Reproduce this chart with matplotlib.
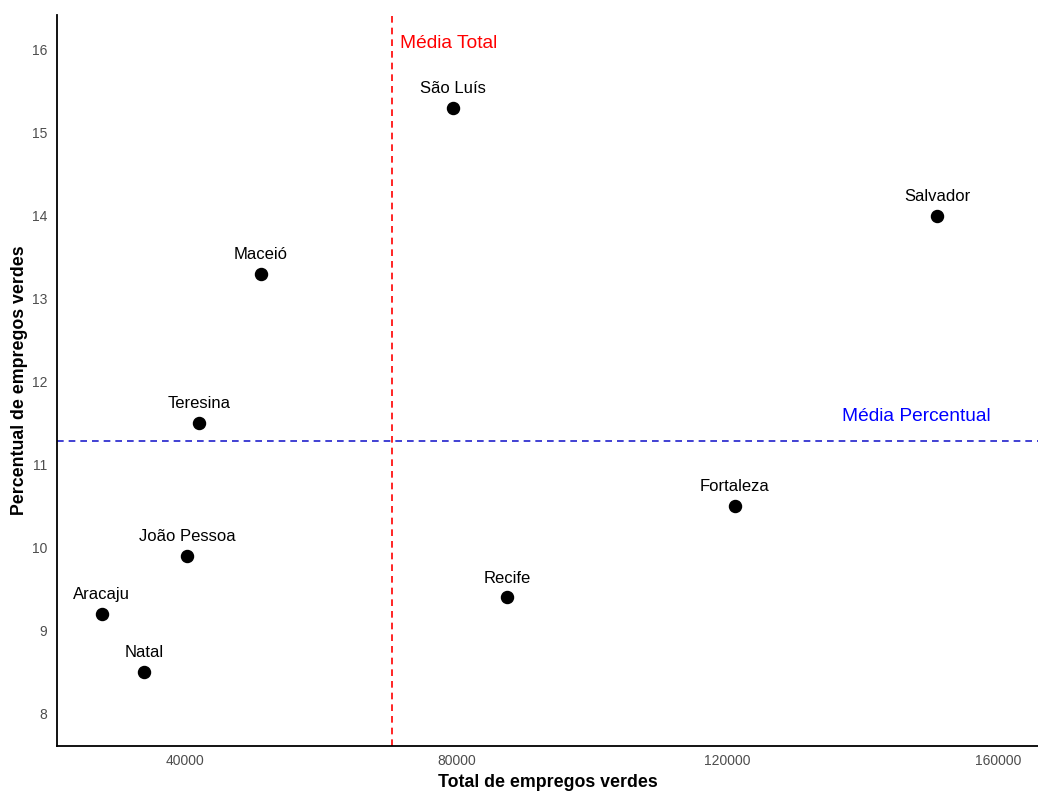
import matplotlib
matplotlib.use("Agg")
import matplotlib.pyplot as plt
import numpy as np

plt.rcParams['font.family'] = ['Liberation Sans', 'DejaVu Sans']

cities = ["São Luís", "Salvador", "Maceió", "Teresina", "Fortaleza",
          "João Pessoa", "Recife", "Aracaju", "Natal"]
total_empregos = [79500, 150900, 51200, 42000, 121100, 40300, 87500, 27700, 33900]
percentual = [15.3, 14.0, 13.3, 11.5, 10.5, 9.9, 9.4, 9.2, 8.5]
x_ticks = [40000, 80000, 120000, 160000]
y_ticks = [8, 9, 10, 11, 12, 13, 14, 15, 16]

fig = plt.figure(figsize=(10.38, 7.93), dpi=100)
ax = fig.add_axes([57/1038, 1-746/793, 1-57/1038, (746-15)/793])

x = np.array(total_empregos)
y = np.array(percentual)
mean_x = x.mean()
mean_y = y.mean()

ax.axvline(mean_x, color='red', linestyle=(0, (4, 3)), linewidth=1.2, zorder=1)
ax.axhline(mean_y, color='#2020CC', linestyle=(0, (4, 3)), linewidth=1.2, zorder=1)
ax.scatter(x, y, s=75, color='black', zorder=3)

for cx, cy, name in zip(x, y, cities):
    ax.annotate(name, (cx, cy), xytext=(0, 14), textcoords='offset points',
                ha='center', va='center', fontsize=12, color='black')

ax.text(mean_x + 1300, 16.08, "Média Total", color='red', fontsize=13.8,
        ha='left', va='center')
ax.text(147800, 11.58, "Média Percentual", color='blue', fontsize=13.8,
        ha='center', va='center')

ax.set_xlim(21100, 165800)
ax.set_ylim(7.61, 16.42)
ax.set_xticks(x_ticks)
ax.set_xticklabels([str(v) for v in x_ticks])
ax.set_yticks(y_ticks)
ax.tick_params(length=0, colors='#4D4D4D', labelsize=10, pad=6)
ax.tick_params(axis='y', pad=7)
for sp in ['top', 'right']:
    ax.spines[sp].set_visible(False)
for sp in ['left', 'bottom']:
    ax.spines[sp].set_linewidth(1.3)
    ax.spines[sp].set_color('black')

ax.set_xlabel("Total de empregos verdes", fontsize=12.8, fontweight='bold', labelpad=4)
ax.set_ylabel("Percentual de empregos verdes", fontsize=12.8, fontweight='bold', labelpad=3)

fig.savefig("out.png", dpi=100, facecolor='white')
